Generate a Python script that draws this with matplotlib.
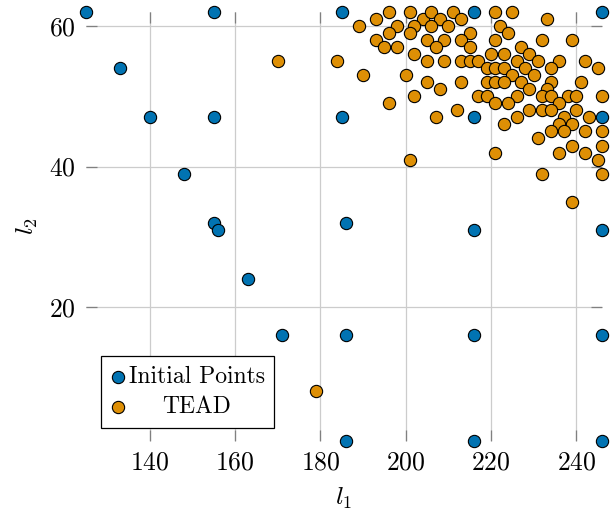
import matplotlib
matplotlib.use("Agg")
import matplotlib.pyplot as plt

plt.rcParams['font.family'] = 'serif'
plt.rcParams['font.serif'] = ['cmr10']
plt.rcParams['mathtext.fontset'] = 'cm'
plt.rcParams['axes.formatter.use_mathtext'] = True
plt.rcParams['font.size'] = 18.5

# initial sample points
init_l1 = [125, 133, 140, 148, 155, 155, 155, 156, 163, 171,
           185, 185, 186, 186, 186,
           216, 216, 216, 216, 216,
           246, 246, 246, 246, 246]
init_l2 = [62, 54, 47, 39, 62, 47, 32, 31, 24, 16,
           62, 47, 32, 16, 1,
           62, 47, 31, 16, 1,
           62, 47, 31, 16, 1]

# points added by TEAD
tead_l1 = [170, 179, 184, 189, 190,
           193, 196, 201, 204, 206, 208,
           198, 202, 206, 196, 201,
           193, 205, 209, 195, 198, 207,
           202, 205, 209,
           200, 205, 208, 202, 196, 207, 201,
           211, 221, 225, 213, 210, 222, 215, 224,
           213, 221, 215, 227, 220, 223,
           213, 215, 217, 226,
           219, 221, 223, 228, 225,
           213, 219, 221, 223, 227,
           217, 219, 226, 221, 224, 212, 223, 226, 221,
           233, 232, 239, 229, 231, 236, 242, 245, 234,
           230, 234, 241, 229, 233,
           232, 234, 238, 240, 246,
           236, 229, 232, 234, 240,
           243, 237, 236, 239,
           234, 237, 242, 246,
           231, 239, 246, 236, 242, 245,
           232, 246, 239]
tead_l2 = [55, 8, 55, 60, 53,
           61, 62, 62, 61, 62, 61,
           60, 60, 60, 59, 59,
           58, 58, 58, 57, 57, 57,
           56, 55, 55,
           53, 52, 51, 50, 49, 47, 41,
           62, 62, 62, 61, 60, 60, 59, 59,
           58, 58, 57, 57, 56, 56,
           55, 55, 55, 55,
           54, 54, 54, 54, 53,
           52, 52, 52, 52, 52,
           50, 50, 50, 49, 49, 48, 46, 47, 42,
           61, 58, 58, 56, 55, 55, 55, 54, 54,
           53, 52, 52, 51, 51,
           50, 50, 50, 50, 50,
           49, 48, 48, 48, 48,
           47, 47, 46, 46,
           45, 45, 45, 45,
           44, 43, 43, 42, 42, 41,
           39, 39, 35]

fig = plt.figure(figsize=(6.1, 5.12), dpi=100)
ax = fig.add_axes([0.1405, 0.1393, 0.8464, 0.8373])

ax.scatter(init_l1, init_l2, s=78, c='#0173b2', edgecolors='black',
           linewidths=0.8, clip_on=False, zorder=3, label='Initial Points')
ax.scatter(tead_l1, tead_l2, s=78, c='#de8f05', edgecolors='black',
           linewidths=0.8, clip_on=False, zorder=3, label='TEAD')

ax.set_xlim(125, 246)
ax.set_ylim(1, 62)
ax.set_xticks([140, 160, 180, 200, 220, 240])
ax.set_yticks([20, 40, 60])
ax.grid(True, color='#cccccc', linewidth=0.9)
ax.set_axisbelow(True)
for s in ax.spines.values():
    s.set_visible(False)
ax.tick_params(direction='in', length=8, width=0.9, color='#808080',
               top=True, right=True, pad=7)
ax.set_xlabel(r'$l_1$', labelpad=8)
ax.set_ylabel(r'$l_2$', labelpad=7)

leg = ax.legend(loc='lower left', bbox_to_anchor=(0.03, 0.03), borderaxespad=0,
                fancybox=False, framealpha=1, edgecolor='black', fontsize=17,
                handletextpad=0.17, borderpad=0.4, labelspacing=0.35,
                handlelength=0.6)
leg.get_frame().set_linewidth(0.9)

# centre the second legend label like the original
fig.canvas.draw()
r = fig.canvas.get_renderer()
rows = leg._legend_handle_box.get_children()[0].get_children()
w0 = leg.texts[0].get_window_extent(r).width
w1 = leg.texts[1].get_window_extent(r).width
rows[1].sep += (w0 - w1) / 2 * 72 / fig.dpi

fig.savefig('out.png', dpi=100)
